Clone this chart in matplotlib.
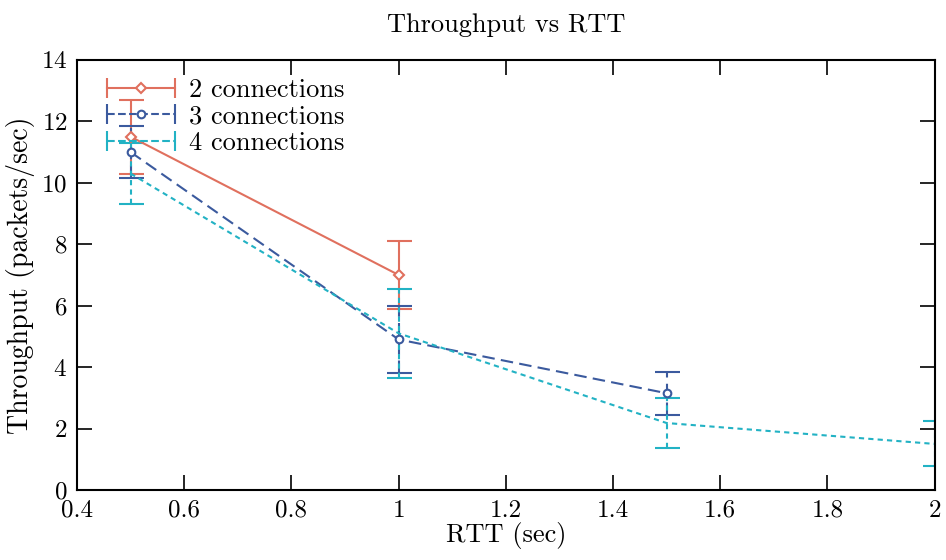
import numpy as np
import matplotlib
matplotlib.use('Agg')
import matplotlib.pyplot as plt
from matplotlib.lines import Line2D
from matplotlib.legend_handler import HandlerBase

plt.rcParams['font.family'] = 'serif'
plt.rcParams['font.serif'] = ['cmr10', 'DejaVu Serif']
plt.rcParams['axes.formatter.use_mathtext'] = True
plt.rcParams['mathtext.fontset'] = 'cm'

# data
rtt2 = [0.5, 1.0]
thr2 = [11.5, 7.0]
err2 = [1.2, 1.1]

rtt3 = [0.5, 1.0, 1.5]
thr3 = [11.0, 4.9, 3.15]
err3 = [0.85, 1.1, 0.7]

rtt4 = [0.5, 1.0, 1.5, 2.0]
thr4 = [10.3, 5.1, 2.18, 1.5]
err4 = [1.0, 1.45, 0.8, 0.73]

labels = ['2 connections', '3 connections', '4 connections']
colors = ['#e0705e', '#3b5a9e', '#22b2c4']
styles = ['-', (0, (6, 3)), (0, (2.5, 2))]
markers = ['D', 'o', None]


class CapHandler(HandlerBase):
    def create_artists(self, legend, orig, xd, yd, w, h, fontsize, trans):
        y = h / 2 - yd
        x0, x1 = -xd, -xd + w
        c = orig.get_color()
        line = Line2D([x0, x1], [y, y], color=c, ls=orig.get_linestyle(), lw=1.5)
        caps = Line2D([x0, x1], [y, y], color=c, ls='none', marker='|', ms=15, mew=1.5)
        arts = [line, caps]
        if orig.get_marker() not in (None, 'None', ''):
            m = Line2D([(x0 + x1) / 2], [y], color=c, ls='none', marker=orig.get_marker(),
                       ms=orig.get_markersize(), mfc='white', mew=1.5)
            arts.append(m)
        for a in arts:
            a.set_transform(trans)
        return arts


fig = plt.figure(figsize=(9.46, 5.6), dpi=100)
ax = fig.add_axes([0.0814, 0.125, 0.9066, 0.768])

series = [(rtt2, thr2, err2), (rtt3, thr3, err3), (rtt4, thr4, err4)]
handles = []
for (x, y, e), lab, c, ls, mk in zip(series, labels, colors, styles, markers):
    ms = 5 if mk == 'D' else 5.5
    eb = ax.errorbar(x, y, yerr=e, color=c, ls=ls, lw=1.5, marker=mk, ms=ms,
                     mfc='white', mew=1.5, capsize=9, capthick=1.5, elinewidth=1.5)
    eb[2][0].set_linestyle(ls)
    h = Line2D([], [], color=c, ls=ls, marker=mk, ms=ms)
    handles.append(h)

ax.set_xlim(0.4, 2)
ax.set_ylim(0, 14)
ax.set_xticks(np.arange(0.4, 2.01, 0.2))
ax.set_xticklabels(['0.4', '0.6', '0.8', '1', '1.2', '1.4', '1.6', '1.8', '2'])
ax.set_yticks(range(0, 15, 2))
ax.tick_params(direction='in', top=True, right=True, length=11, width=1.2,
               labelsize=18, pad=7)
for s in ax.spines.values():
    s.set_linewidth(1.5)

ax.set_xlabel('RTT (sec)', fontsize=19, labelpad=0)
ax.set_ylabel('Throughput (packets/sec)', fontsize=20, labelpad=4)
ax.set_title('Throughput vs RTT', fontsize=19, pad=20)

ax.legend(handles, labels, handler_map={Line2D: CapHandler()}, loc='upper left',
          bbox_to_anchor=(0.014, 1.0), frameon=False, fontsize=19, handlelength=2.55,
          handletextpad=0.55, labelspacing=0.1, borderaxespad=0.3)

fig.savefig('out.png', dpi=100)
